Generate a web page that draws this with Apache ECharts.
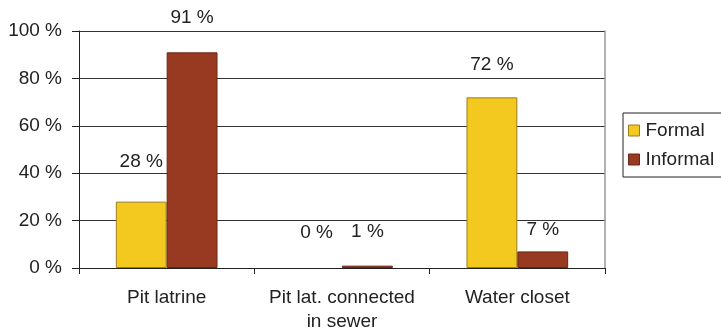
<!DOCTYPE html>
<html>
<head>
<meta charset="utf-8">
<script src="https://cdn.jsdelivr.net/npm/echarts@6/dist/echarts.min.js"></script>
<style>
  html, body { margin: 0; padding: 0; background: #fff; }
  #chart { width: 721px; height: 333px; }
</style>
</head>
<body>
<div id="chart"></div>
<script>
const categories = ["Pit latrine", "Pit lat. connected\nin sewer", "Water closet"];
const formal = [28, 0, 72];
const informal = [91, 1, 7];

// how far each value label sits above its bar (labels were placed by hand in the original)
const formalLabelGap = [30, 26, 23];
const informalLabelGap = [25, 24, 12];

const chart = echarts.init(document.getElementById("chart"));
const font = "Liberation Sans, Arial, sans-serif";

function withLabels(values, gaps) {
  return values.map((v, i) => ({
    value: v,
    label: { distance: gaps[i] },
    // a zero bar has no visible outline in the original
    itemStyle: v === 0 ? { borderWidth: 0 } : undefined
  }));
}

const labelStyle = {
  show: true,
  position: "top",
  formatter: "{c} %",
  fontSize: 19,
  color: "#222",
  fontFamily: font
};

chart.setOption({
  animation: false,
  textStyle: { fontFamily: font },
  grid: { left: 79, right: 116, top: 31, bottom: 65, outerBoundsMode: "none", containLabel: false },
  legend: {
    orient: "vertical",
    left: 623,
    top: 113,
    itemWidth: 11,
    itemHeight: 11,
    itemGap: 10,
    itemStyle: { borderWidth: 1 },
    padding: [8, 14, 8, 5],
    borderColor: "#222",
    borderWidth: 1,
    icon: "rect",
    textStyle: { fontSize: 19, color: "#222", fontFamily: font, padding: [0, 0, 0, 1] },
    data: ["Formal", "Informal"]
  },
  xAxis: {
    type: "category",
    data: categories,
    axisLine: { lineStyle: { color: "#222", width: 1 } },
    axisTick: { show: true, length: 6, lineStyle: { color: "#222" } },
    axisLabel: {
      interval: 0,
      hideOverlap: false,
      fontSize: 19,
      color: "#222",
      margin: 18,
      lineHeight: 24,
      fontFamily: font
    }
  },
  yAxis: [
    {
      type: "value",
      min: 0,
      max: 100,
      interval: 20,
      axisLine: { show: true, lineStyle: { color: "#222", width: 1 } },
      axisTick: { show: true, length: 7, lineStyle: { color: "#222" } },
      axisLabel: { formatter: "{value} %", fontSize: 19, color: "#222", margin: 17, fontFamily: font },
      splitLine: { lineStyle: { color: "#333", width: 1 } }
    },
    {
      type: "value",
      position: "right",
      min: 0,
      max: 100,
      axisLine: { show: true, lineStyle: { color: "#999", width: 1.5 } },
      axisTick: { show: false },
      axisLabel: { show: false },
      splitLine: { show: false }
    }
  ],
  series: [
    {
      name: "Formal",
      type: "bar",
      data: withLabels(formal, formalLabelGap),
      barGap: "0%",
      barCategoryGap: "42%",
      itemStyle: { color: "#F4C91F", borderColor: "#9c7d1c", borderWidth: 1 },
      label: labelStyle
    },
    {
      name: "Informal",
      type: "bar",
      data: withLabels(informal, informalLabelGap),
      itemStyle: { color: "#973A21", borderColor: "#6a2614", borderWidth: 1 },
      label: labelStyle
    }
  ]
});
</script>
</body>
</html>
